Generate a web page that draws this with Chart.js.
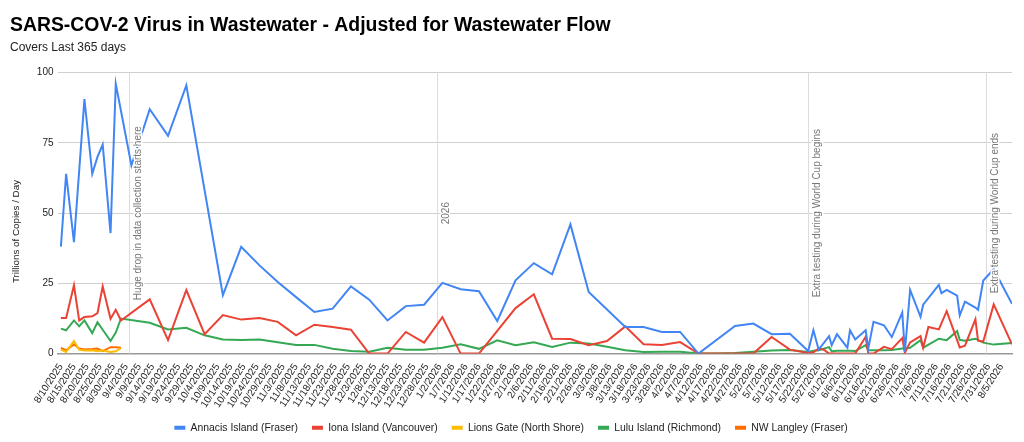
<!DOCTYPE html>
<html><head><meta charset="utf-8">
<script src="https://cdn.jsdelivr.net/npm/chart.js@4.4.1/dist/chart.umd.min.js"></script>
<style>html,body{margin:0;padding:0;background:#fff;overflow:hidden}#wrap{width:1024px;height:442px;position:relative}</style>
</head><body><div id="wrap"><canvas id="c"></canvas></div>
<script>
// ---- data ----
const sampleDates = [
 '8/10/2025','8/12/2025','8/15/2025','8/17/2025','8/19/2025','8/22/2025','8/24/2025','8/26/2025','8/29/2025','8/31/2025','9/2/2025',
 '9/6/2025','9/13/2025','9/20/2025','9/27/2025','10/4/2025','10/11/2025','10/18/2025','10/25/2025','11/1/2025','11/8/2025',
 '11/15/2025','11/22/2025','11/29/2025','12/6/2025','12/13/2025','12/20/2025','12/27/2025','1/3/2026','1/10/2026','1/17/2026',
 '1/24/2026','1/31/2026','2/7/2026','2/14/2026','2/21/2026','2/28/2026','3/7/2026','3/14/2026','3/21/2026','3/28/2026',
 '4/4/2026','4/11/2026','4/18/2026','4/25/2026','5/2/2026','5/9/2026','5/16/2026','5/23/2026',
 '5/25/2026','5/27/2026','5/29/2026','5/31/2026','6/1/2026','6/3/2026','6/7/2026','6/8/2026','6/10/2026','6/14/2026',
 '6/15/2026','6/17/2026','6/21/2026','6/24/2026','6/28/2026','6/29/2026','7/1/2026','7/5/2026','7/6/2026','7/8/2026',
 '7/12/2026','7/13/2026','7/15/2026','7/19/2026','7/20/2026','7/22/2026','7/26/2026','7/27/2026','7/29/2026','8/2/2026','8/9/2026'
];
const annacis = [
 38.1,64,39.7,null,90.6,64,70,74.4,42.9,96,null,
 67,87,77.5,95.5,null,20.8,38,31.4,25.5,20.1,
 14.8,16.0,23.9,19.2,11.8,16.9,17.4,25.2,22.9,22.2,
 11.6,26.1,32.2,28.2,46.0,21.9,null,9.5,9.5,7.7,
 7.7,0,null,9.8,10.7,6.9,7.1,0.9,
 8.3,1.4,null,6.2,3.0,6.9,2.1,8.3,5.0,8.3,
 1.8,11.3,10.1,5.9,14.6,0.6,22.7,13.1,17.4,null,
 24.5,21.5,22.7,20.6,13.6,18.5,16.4,15.6,26,30,17.7
];
const iona = [
 12.7,12.7,24.3,11.8,13.0,13.3,14.4,23.9,12.4,15.6,11.8,
 null,19.3,4.8,22.6,6.9,13.7,12.1,12.7,11.3,6.5,
 10.3,9.5,8.5,0,0,7.7,3.9,13.0,0,0,
 8.1,16.2,21.1,5.3,5.2,3.0,4.5,9.7,3.3,3.1,
 4.1,0,0,0,0,5.9,1.4,0.2,
 0.5,1.8,1.4,0,0,0,0,0,0,6.0,
 0,0,2.4,1.6,5.5,0.3,4.0,6.2,2.1,9.5,
 8.6,null,15.1,null,2.2,2.8,12.2,4.6,4.3,17.5,3.3
];
const lionsGate = [
 1.4,0.6,4.5,1.4,1.1,1.2,0.8,1.1,0.6,0.8,1.9
];
const lulu = [
 8.9,8.3,11.8,9.7,11.8,7.3,11.2,8.5,4.5,7.5,12.5,
 null,11.0,8.6,9.2,6.5,5.0,4.8,5.0,4.0,3.1,
 3.1,1.7,0.9,0.7,2.1,1.4,1.4,2.1,3.3,1.7,
 4.7,3.0,4.0,2.4,3.9,3.6,2.4,1.2,0.6,0.7,
 0.7,0,0,0.2,0.7,1.1,1.3,0.6,
 1.0,1.2,null,2.3,0.8,1.0,1.0,1.0,0.9,3.0,
 1.2,1.2,1.2,1.3,1.8,1.8,2.1,4.8,2.1,null,
 5.3,null,4.8,8.0,4.9,4.6,5.3,null,3.9,3.2,3.8
];
const nwLangley = [
 2.0,1.2,3.3,1.8,1.5,1.6,1.8,0.9,2.3,2.3,2.1
];
const seriesNames = ['Annacis Island (Fraser)','Iona Island (Vancouver)','Lions Gate (North Shore)','Lulu Island (Richmond)','NW Langley (Fraser)'];
const seriesColors = ['#4285F4','#EA4335','#FBBC04','#34A853','#FF6D01'];
const yTicks = [0,25,50,75,100];
const annotationDates = ['9/5/2025','1/1/2026','5/23/2026','7/30/2026'];
const annotationTexts = ['Huge drop in data collection starts here','2026','Extra testing during World Cup begins','Extra testing during World Cup ends'];
const titleText = 'SARS-COV-2 Virus in Wastewater - Adjusted for Wastewater Flow';
const subtitleText = 'Covers Last 365 days';
const yTitleText = 'Trillions of Copies / Day';

// ---- helpers ----
const START = Date.UTC(2025,7,10);
function dayOf(s){const [m,d,y]=s.split('/').map(Number);return Math.round((Date.UTC(y,m-1,d)-START)/86400000);}
function labelOf(day){const dt=new Date(START+day*86400000);return (dt.getUTCMonth()+1)+'/'+dt.getUTCDate()+'/'+dt.getUTCFullYear();}
const xs = sampleDates.map(dayOf);
function pts(arr){return arr.map((v,i)=>({x:xs[i],y:v}));}
const FONT = 'Arial, "Liberation Sans", sans-serif';

const annotPlugin = {
  id:'annots',
  beforeDatasetsDraw(chart){
    const {ctx, chartArea:a, scales:{x}} = chart;
    ctx.save(); ctx.strokeStyle='#dcdcdc'; ctx.lineWidth=1;
    annotationDates.forEach(d=>{const px=Math.round(x.getPixelForValue(dayOf(d)))+0.5;ctx.beginPath();ctx.moveTo(px,a.top);ctx.lineTo(px,a.bottom);ctx.stroke();});
    ctx.restore();
  },
  afterDatasetsDraw(chart){
    const {ctx, chartArea:a, scales:{x}} = chart;
    const cy=(a.top+a.bottom)/2;
    ctx.save(); ctx.font='10px '+FONT; ctx.textAlign='center'; ctx.textBaseline='top';
    annotationDates.forEach((d,i)=>{
      const px=x.getPixelForValue(dayOf(d));
      ctx.save(); ctx.translate(px+4,cy); ctx.rotate(-Math.PI/2);
      ctx.lineWidth=3; ctx.strokeStyle='#fff'; ctx.lineJoin='round'; ctx.strokeText(annotationTexts[i],0,0);
      ctx.fillStyle='#777'; ctx.fillText(annotationTexts[i],0,0);
      ctx.restore();
    });
    ctx.restore();
  },
  afterDraw(chart){
    const ctx=chart.ctx; ctx.save(); ctx.font='9.8px '+FONT; ctx.fillStyle='#222'; ctx.textAlign='center'; ctx.textBaseline='middle';
    ctx.translate(16,231.5); ctx.rotate(-Math.PI/2); ctx.fillText(yTitleText,0,0); ctx.restore();
  }
};

const allSeries=[annacis,iona,lionsGate,lulu,nwLangley];
new Chart(document.getElementById('c'),{
  type:'line',
  data:{datasets:allSeries.map((s,i)=>({label:seriesNames[i],data:pts(s),borderColor:seriesColors[i],backgroundColor:seriesColors[i],borderWidth:2,pointRadius:0,pointHoverRadius:0,tension:0,spanGaps:true}))},
  options:{
    responsive:true, maintainAspectRatio:false, animation:false,
    layout:{padding:{left:10,right:12,top:0,bottom:-1}},
    plugins:{
      title:{display:true,text:titleText,align:'start',color:'#000',font:{family:FONT,size:19.4,weight:'bold'},padding:{top:14,bottom:0}},
      subtitle:{display:true,text:subtitleText,align:'start',color:'#222',font:{family:FONT,size:12},padding:{top:3,bottom:18}},
      legend:{position:'bottom',labels:{boxWidth:11,boxHeight:4,padding:14,color:'#222',font:{family:FONT,size:10.4},
        generateLabels(chart){const items=Chart.defaults.plugins.legend.labels.generateLabels(chart);items.forEach(it=>{it.lineWidth=0;});return items;}}},
      tooltip:{enabled:false}
    },
    scales:{
      x:{type:'linear',min:-1.3,max:364,
        afterFit(s){s.height=55;},
        grid:{display:false,drawTicks:false},
        border:{display:true,color:'#999',width:1.5},
        ticks:{stepSize:5,autoSkip:false,includeBounds:false,minRotation:57,maxRotation:57,padding:8,color:'#222',font:{family:FONT,size:10},callback:(v)=>labelOf(v)}
      },
      y:{min:0,max:100,
        afterBuildTicks(s){s.ticks=yTicks.map(v=>({value:v}));},
        afterFit(s){s.width=47.5;},
        grid:{color:'#d0d0d0',drawTicks:false},
        border:{display:false},
        ticks:{padding:4,color:'#222',font:{family:FONT,size:10}}
      }
    }
  },
  plugins:[annotPlugin]
});
</script></body></html>
